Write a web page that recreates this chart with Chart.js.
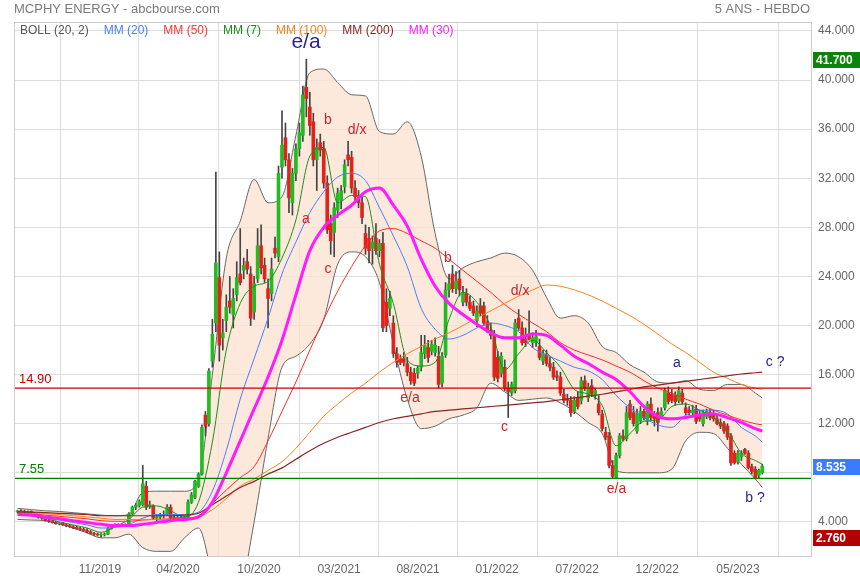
<!DOCTYPE html>
<html>
<head>
<meta charset="utf-8">
<script src="https://cdn.jsdelivr.net/npm/chart.js@4.4.0/dist/chart.umd.min.js"></script>
<style>
  html, body { margin: 0; padding: 0; background: #fff; }
  #wrap { width: 860px; height: 580px; }
</style>
</head>
<body>
<div id="wrap"><canvas id="myChart" width="860" height="580"></canvas></div>
<script>
// weekly candles, week 0 = first bar on the left
const opens = [
  4.85, 4.90, 4.85, 4.80, 4.85, 4.70, 4.50, 4.35, 4.30, 4.10,
  4.05, 3.95, 3.85, 3.90, 3.75, 3.70, 3.60, 3.55, 3.45, 3.40,
  3.30, 3.20, 3.05, 3.00, 2.95, 2.98, 3.00, 3.45, 3.70, 3.75,
  3.70, 3.75, 3.80, 4.65, 5.20, 5.35, 5.40, 6.90, 5.30, 5.30,
  4.30, 4.40, 4.50, 4.60, 5.20, 4.35, 4.30, 4.35, 4.30, 4.40,
  5.60, 6.00, 6.90, 7.90, 12.70, 12.00, 17.10, 20.20, 23.90, 19.00,
  20.40, 22.00, 20.90, 22.50, 24.20, 24.50, 25.20, 24.20, 21.10, 23.80,
  26.50, 24.90, 23.00, 22.60, 26.30, 25.60, 32.90, 35.30, 33.50, 30.00,
  32.40, 34.40, 35.50, 39.40, 37.80, 36.60, 33.50, 34.90, 34.40, 31.60,
  28.30, 27.60, 29.40, 30.20, 31.30, 33.90, 33.70, 31.20, 30.50, 30.00,
  27.50, 27.10, 26.30, 27.10, 26.10, 26.70, 21.90, 21.40, 20.20, 17.70,
  17.30, 17.30, 16.90, 16.20, 16.10, 16.10, 16.60, 17.70, 18.20, 17.90,
  17.80, 17.50, 15.30, 17.60, 22.90, 24.20, 23.00, 23.80, 21.90, 22.60,
  21.90, 21.60, 20.40, 21.60, 21.60, 20.30, 19.60, 19.20, 17.40, 16.10,
  16.60, 14.90, 14.50, 14.70, 20.60, 19.80, 18.90, 19.30, 18.60, 18.60,
  18.30, 17.10, 17.60, 16.90, 16.60, 15.90, 15.80, 14.40, 14.00, 13.90,
  13.00, 14.10, 13.90, 15.50, 14.10, 15.10, 14.30, 13.60, 12.80, 11.30,
  11.00, 8.60, 7.60, 9.40, 11.00, 10.80, 13.60, 12.90, 11.40, 12.20,
  13.00, 12.20, 13.60, 12.70, 12.90, 12.60, 13.30, 14.50, 14.40, 14.30,
  13.90, 14.50, 13.30, 13.10, 12.90, 13.20, 12.60, 12.00, 12.60, 12.90,
  12.80, 12.40, 12.10, 12.00, 11.80, 11.00, 9.60, 8.90, 9.30, 9.90,
  9.60, 8.50, 8.30, 7.80, 8.00
];
const highs = [
  4.95, 5.00, 4.95, 4.90, 4.90, 4.75, 4.60, 4.45, 4.35, 4.20,
  4.15, 4.05, 3.95, 3.95, 3.85, 3.80, 3.70, 3.65, 3.55, 3.50,
  3.45, 3.30, 3.15, 3.10, 3.05, 3.10, 3.55, 3.80, 3.85, 3.85,
  3.85, 3.85, 4.75, 5.30, 5.50, 5.80, 8.60, 7.30, 5.70, 5.40,
  4.60, 4.70, 4.90, 5.40, 5.40, 4.60, 4.50, 4.55, 4.50, 5.80,
  6.40, 7.40, 8.00, 11.90, 13.00, 16.50, 20.50, 32.50, 26.00, 20.50,
  22.50, 24.00, 23.00, 25.20, 27.90, 25.50, 26.20, 24.80, 24.00, 27.90,
  28.20, 25.50, 23.80, 25.50, 27.20, 33.00, 37.50, 36.50, 34.00, 32.80,
  34.80, 36.50, 39.50, 41.70, 39.00, 37.30, 35.20, 35.60, 35.00, 32.20,
  29.00, 30.00, 31.20, 31.40, 33.50, 35.00, 34.20, 31.80, 31.00, 30.50,
  28.20, 28.00, 27.30, 28.30, 27.00, 27.60, 23.00, 22.80, 20.80, 18.20,
  17.60, 17.80, 17.40, 16.60, 16.50, 16.70, 19.20, 19.20, 18.80, 18.80,
  19.00, 18.30, 17.80, 23.50, 24.20, 24.90, 24.40, 24.50, 23.20, 23.00,
  22.40, 22.00, 21.60, 22.20, 21.90, 20.80, 20.20, 19.60, 17.90, 17.80,
  17.20, 15.40, 15.40, 20.50, 21.30, 20.30, 19.80, 21.20, 19.40, 19.60,
  18.90, 18.00, 18.00, 17.40, 17.00, 16.30, 16.20, 14.80, 14.40, 14.20,
  14.20, 14.60, 15.80, 15.90, 15.30, 15.60, 14.90, 14.30, 13.10, 11.70,
  11.30, 9.00, 9.60, 11.20, 11.50, 13.40, 13.90, 13.40, 13.20, 13.40,
  13.20, 13.80, 14.10, 13.00, 13.30, 13.30, 14.90, 15.00, 14.80, 14.60,
  15.00, 14.80, 13.70, 13.40, 13.50, 13.50, 13.10, 13.10, 13.20, 13.20,
  13.10, 12.70, 12.40, 12.20, 12.00, 11.20, 9.80, 9.80, 9.80, 10.00,
  9.80, 8.70, 8.50, 8.30, 8.70
];
const lows = [
  4.75, 4.80, 4.75, 4.70, 4.65, 4.45, 4.30, 4.20, 4.05, 3.95,
  3.90, 3.80, 3.75, 3.70, 3.60, 3.55, 3.45, 3.40, 3.30, 3.25,
  3.10, 3.00, 2.90, 2.85, 2.76, 2.85, 2.95, 3.40, 3.60, 3.60,
  3.60, 3.65, 3.75, 4.60, 5.00, 5.20, 5.30, 5.00, 5.10, 4.20,
  4.00, 4.20, 4.30, 4.50, 4.20, 4.20, 4.15, 4.20, 4.20, 4.35,
  5.50, 5.90, 6.80, 7.80, 11.00, 11.80, 16.60, 19.50, 17.10, 18.00,
  19.50, 21.00, 19.80, 22.00, 23.30, 23.80, 24.20, 20.00, 20.50, 23.50,
  24.20, 23.50, 19.80, 22.00, 25.50, 25.20, 32.00, 33.00, 29.20, 29.00,
  31.80, 33.80, 35.00, 37.00, 35.50, 33.00, 31.00, 33.80, 31.20, 27.50,
  25.80, 25.60, 28.80, 29.50, 30.80, 33.00, 30.80, 30.20, 29.60, 28.30,
  25.80, 25.10, 25.00, 25.80, 25.60, 19.50, 19.50, 20.80, 17.40, 16.60,
  16.80, 16.70, 15.90, 15.20, 15.10, 15.70, 16.30, 17.30, 17.00, 17.60,
  17.50, 14.90, 15.00, 17.40, 22.30, 22.70, 22.60, 22.40, 21.60, 21.60,
  21.20, 20.80, 19.90, 20.80, 20.00, 19.40, 18.90, 15.50, 15.40, 15.80,
  14.70, 12.50, 14.30, 14.50, 19.60, 18.40, 18.30, 18.80, 18.20, 18.30,
  17.20, 16.80, 16.70, 16.30, 15.60, 15.50, 14.30, 13.70, 13.50, 12.60,
  12.80, 13.20, 13.60, 14.70, 13.80, 14.20, 14.00, 12.70, 11.40, 10.70,
  8.40, 7.55, 7.60, 9.20, 10.60, 10.60, 12.30, 11.80, 11.20, 12.00,
  12.30, 11.90, 12.30, 11.80, 11.40, 12.40, 13.10, 13.60, 13.70, 13.50,
  13.70, 13.60, 12.70, 12.70, 12.70, 12.00, 12.20, 11.80, 12.40, 12.30,
  12.20, 11.90, 11.60, 11.20, 10.70, 8.60, 8.70, 8.70, 9.00, 9.50,
  8.30, 7.90, 7.50, 7.60, 7.90
];
const closes = [
  4.90, 4.85, 4.80, 4.85, 4.70, 4.50, 4.35, 4.30, 4.10, 4.05,
  3.95, 3.85, 3.90, 3.75, 3.70, 3.60, 3.55, 3.45, 3.40, 3.30,
  3.20, 3.05, 3.00, 2.95, 2.98, 3.00, 3.45, 3.70, 3.75, 3.70,
  3.75, 3.80, 4.65, 5.20, 5.35, 5.65, 7.10, 5.20, 5.40, 4.30,
  4.40, 4.50, 4.60, 5.20, 4.35, 4.30, 4.35, 4.30, 4.40, 5.60,
  6.20, 7.30, 7.90, 11.70, 11.80, 16.30, 19.30, 25.10, 18.40, 19.40,
  21.50, 21.50, 22.20, 23.90, 23.50, 24.90, 24.60, 20.60, 23.40, 26.50,
  24.70, 23.80, 22.20, 24.60, 25.90, 32.40, 34.70, 33.50, 30.40, 32.40,
  34.40, 35.70, 38.80, 38.50, 36.30, 33.50, 34.50, 34.30, 31.60, 27.80,
  26.90, 29.60, 30.80, 31.00, 33.10, 33.50, 31.20, 30.50, 30.00, 28.80,
  26.30, 26.10, 26.80, 26.10, 26.70, 19.80, 20.00, 22.20, 17.70, 17.00,
  17.00, 17.00, 16.20, 15.50, 15.30, 16.50, 17.80, 18.40, 17.40, 18.50,
  18.40, 15.20, 17.50, 22.90, 23.40, 23.00, 23.60, 22.90, 22.70, 21.90,
  21.40, 21.00, 21.20, 21.00, 20.20, 19.60, 19.20, 15.80, 15.70, 17.50,
  14.90, 14.60, 15.20, 20.20, 19.80, 18.60, 18.60, 18.90, 19.00, 19.10,
  17.40, 17.70, 16.90, 16.60, 15.80, 15.80, 14.50, 13.90, 13.90, 12.90,
  13.90, 13.40, 15.50, 14.90, 15.00, 14.40, 14.70, 12.90, 11.60, 10.90,
  8.60, 7.70, 9.40, 11.00, 10.80, 12.90, 12.50, 12.00, 12.80, 13.00,
  12.50, 13.60, 12.50, 12.40, 12.10, 13.00, 14.70, 13.80, 13.90, 13.80,
  14.70, 13.80, 12.90, 12.90, 13.10, 12.20, 12.40, 12.90, 13.00, 12.50,
  12.40, 12.00, 11.80, 11.40, 10.90, 8.80, 8.80, 9.60, 9.60, 9.60,
  8.40, 8.10, 7.60, 8.20, 8.535
];

// indicator lines, read every 4 weeks
const maWeeks = [
  0, 4, 8, 12, 16, 20, 24, 28, 32, 36, 40, 44, 48, 52, 56, 60, 64, 68, 72, 76,
  80, 84, 88, 92, 96, 100, 104, 108, 112, 116, 120, 124, 128, 132, 136, 140,
  144, 148, 152, 156, 160, 164, 168, 172, 176, 180, 184, 188, 192, 196, 200,
  204, 208, 212, 214
];
const mm7 = [
  4.85, 4.8, 4.3, 4.0, 3.75, 3.5, 3.15, 3.6, 4.2, 5.2, 5.3, 4.9, 4.4, 5.6, 10.5,
  18.0, 21.8, 23.2, 23.6, 25.5, 28.6, 33.8, 34.5, 30.0, 30.6, 30.5, 25.0, 21.8,
  17.2, 16.7, 17.0, 20.5, 22.7, 21.9, 19.9, 16.4, 17.7, 18.8, 17.8, 16.6, 14.8,
  14.4, 13.5, 10.2, 11.2, 12.2, 12.3, 13.4, 13.6, 13.1, 12.5, 11.4, 9.6, 9.0, 8.7
];
const mm20 = [
  4.7, 4.55, 4.3, 4.15, 3.95, 3.75, 3.5, 3.55, 3.8, 4.3, 4.6, 4.6, 4.6, 4.8, 6.5,
  9.8, 14.0, 17.3, 20.6, 24.2, 26.8, 29.2, 30.9, 32.1, 32.4, 31.8, 29.6, 27.3,
  24.8, 21.4, 19.7, 18.9, 19.2, 19.8, 20.2, 20.0, 19.5, 18.2, 17.6, 17.1, 16.6,
  16.3, 15.6, 14.3, 13.3, 12.5, 11.9, 11.7, 12.7, 13.1, 13.1, 12.8, 11.7, 11.0, 10.5
];
const mm30 = [
  4.6, 4.55, 4.4, 4.25, 4.1, 3.95, 3.8, 3.7, 3.7, 3.8, 3.95, 4.1, 4.2, 4.4, 5.6,
  8.0, 10.6, 13.2, 15.8, 18.8, 22.5, 26.1, 28.0, 29.0, 29.8, 30.9, 31.2, 29.8,
  28.1, 25.4, 23.2, 21.8, 20.9, 20.1, 19.4, 19.0, 19.0, 19.3, 19.2, 18.4, 17.5,
  16.9, 16.2, 15.6, 14.6, 13.4, 12.6, 12.4, 12.5, 12.7, 12.8, 12.5, 12.1, 11.6, 11.4
];
const mm50 = [
  4.7, 4.65, 4.55, 4.45, 4.35, 4.25, 4.1, 4.05, 4.05, 4.15, 4.2, 4.25, 4.3, 4.5,
  5.5, 6.6, 7.6, 8.5, 10.6, 13.0, 15.4, 18.0, 20.5, 22.8, 24.8, 26.5, 27.7, 27.9,
  27.5, 26.9, 26.3, 25.4, 24.5, 23.6, 22.7, 21.7, 20.9, 20.2, 19.5, 18.6, 18.0,
  17.6, 17.2, 16.7, 16.2, 15.5, 14.9, 14.5, 14.0, 13.6, 13.1, 12.7, 12.3, 12.0, 11.9
];
const mm100 = [
  4.7, 4.7, 4.65, 4.6, 4.5, 4.4, 4.3, 4.2, 4.2, 4.2, 4.2, 4.2, 4.25, 4.4, 5.0,
  5.9, 6.9, 7.5, 8.2, 8.9, 10.0, 11.3, 12.6, 13.6, 14.5, 15.3, 16.2, 17.0, 17.7,
  18.3, 18.9, 19.4, 20.0, 20.6, 21.2, 21.8, 22.4, 22.9, 23.3, 23.2, 22.9, 22.5,
  22.0, 21.4, 20.8, 20.1, 19.3, 18.5, 17.8, 17.0, 16.2, 15.7, 15.2, 14.9, 14.8
];
const mm200 = [
  4.8, 4.8, 4.75, 4.7, 4.65, 4.6, 4.5, 4.5, 4.5, 4.5, 4.5, 4.5, 4.55, 4.7, 5.4,
  6.1, 6.8, 7.3, 7.9, 8.4, 9.1, 9.8, 10.4, 10.9, 11.3, 11.7, 12.1, 12.4, 12.6,
  12.8, 13.0, 13.1, 13.2, 13.3, 13.4, 13.5, 13.6, 13.7, 13.8, 13.95, 14.1, 14.25,
  14.4, 14.6, 14.8, 15.0, 15.15, 15.3, 15.45, 15.6, 15.75, 15.9, 16.05, 16.15, 16.2
];
const bollUp = [
  5.1, 5.0, 4.9, 4.85, 4.75, 4.65, 4.55, 4.5, 4.6, 6.4, 6.5, 6.5, 6.5, 7.4, 16.0,
  25.5, 28.5, 31.9, 30.0, 30.5, 35.5, 40.6, 40.9, 39.8, 38.8, 38.7, 35.8, 35.6,
  36.6, 33.8, 27.5, 23.8, 24.7, 25.2, 25.5, 25.9, 25.6, 24.5, 22.3, 20.6, 20.8,
  20.2, 18.3, 17.8, 16.8, 16.2, 15.4, 15.3, 15.5, 14.8, 14.7, 15.2, 15.2, 14.5, 14.1
];
const bollLow = [
  4.2, 4.15, 4.1, 3.85, 3.5, 3.1, 2.7, 2.7, 3.0, 1.9, 1.6, 1.6, 2.7, 3.5, -0.5,
  -5.0, -2.0, 4.0, 10.8, 16.6, 17.5, 18.5, 20.5, 25.0, 26.0, 25.6, 23.5, 18.5,
  14.0, 11.6, 11.8, 12.4, 12.7, 13.3, 15.3, 14.6, 13.9, 14.0, 14.1, 13.7, 13.0,
  12.1, 11.2, 8.2, 8.0, 8.0, 8.0, 8.3, 10.6, 11.3, 11.2, 10.0, 8.7, 7.5, 6.8
];

// horizontal levels and axis ticks
const levels = [14.90, 7.55];
const yTicks = [4, 8, 12, 16, 20, 24, 28, 32, 36, 40, 44];
const xTickPos = [23.7, 46.1, 69.4, 92.4, 115.1, 137.8, 160.8, 183.8, 207.0];
const xTickLabels = ['11/2019', '04/2020', '10/2020', '03/2021', '08/2021', '01/2022', '07/2022', '12/2022', '05/2023'];

// wave counts written on the chart
const waveTexts = ['e/a', 'b', 'd/x', 'a', 'c', 'b', 'd/x', 'e/a', 'c', 'e/a', 'a', 'c ?', 'b ?'];
const waveWeeks = [82.9, 89.2, 97.6, 82.9, 89.2, 123.7, 144.4, 112.8, 139.9, 172.1, 189.5, 217.7, 211.9];
const waveValues = [43.1, 36.7, 35.9, 28.7, 24.6, 25.5, 22.8, 14.1, 11.7, 6.7, 16.9, 17.0, 5.9];

; ((D) => {
  const FONT = "'Liberation Sans', Arial, Helvetica, sans-serif";
  const GREEN = '#22bb22', RED = '#e0241c';

  let wicks = highs.map((h, i) => ({ x: i, y: [lows[i], h] }));
  let bodies = opens.map((o, i) => ({ x: i, y: [o, closes[i]] }));
  let bodyColors = opens.map((o, i) => closes[i] >= o ? GREEN : RED);

  // price boxes on the right axis: top, last, bottom
  let boxVals = [Math.max(...highs), closes[closes.length - 1], Math.min(...lows)];
  let boxColors = ['#0c840c', '#3b7bff', '#b30000'];

  let line = (label, vals, color, width, order) => ({
    type: 'line',
    label: label,
    data: maWeeks.map((w, k) => ({ x: w, y: vals[k] })),
    borderColor: color,
    borderWidth: width,
    pointRadius: 0,
    fill: false,
    cubicInterpolationMode: 'monotone',
    order: order,
  });

  let up = line('BOLL up', bollUp, '#666666', 1, 20);
  let low = line('BOLL low', bollLow, '#666666', 1, 20);
  low.fill = '-1';
  low.backgroundColor = 'rgba(252, 226, 208, 0.75)';

  let levelColors = ['#cc0000', '#008000'];
  let levelSets = levels.map((v, k) => ({
    type: 'line',
    label: 'level ' + v,
    data: [{ x: -1, y: v }, { x: 228, y: v }],
    borderColor: levelColors[k],
    borderWidth: 1.3,
    pointRadius: 0,
    fill: false,
    order: 2,
  }));

  let datasets = [
    up, low,
    { type: 'bar', label: 'wick', data: wicks, backgroundColor: '#444444', barThickness: 1, grouped: false, order: 10 },
    { type: 'bar', label: 'body', data: bodies, backgroundColor: bodyColors, barThickness: 3, grouped: false, order: 9 },
    line('MM (200)', mm200, '#8b2525', 1.2, 4),
    line('MM (100)', mm100, '#ff7f1a', 1, 4),
    line('MM (50)', mm50, '#ff2a2a', 1, 4),
    line('MM (20)', mm20, '#4a7dff', 1, 4),
    line('MM (7)', mm7, '#1e8c1e', 1, 4),
    line('MM (30)', mm30, '#ff1aff', 3, 3),
  ].concat(levelSets);

  const legendItems = [
    ['BOLL (20, 2)', '#555555'], ['MM (20)', '#4a7dff'], ['MM (50)', '#ff3333'],
    ['MM (7)', '#1e8c1e'], ['MM (100)', '#ff7f1a'], ['MM (200)', '#8b2525'], ['MM (30)', '#ff1aff'],
  ];
  const navy = '#262690', waveRed = '#c8262a';

  const decor = {
    id: 'decor',
    afterDraw(chart) {
      const { ctx, chartArea: a, scales: { x, y } } = chart;
      ctx.save();
      ctx.strokeStyle = '#cccccc';
      ctx.lineWidth = 1;
      ctx.strokeRect(a.left + 0.5, a.top + 0.5, a.right - a.left, a.bottom - a.top);

      // title
      ctx.font = '13px ' + FONT;
      ctx.fillStyle = '#7a7a7a';
      ctx.textBaseline = 'middle';
      ctx.textAlign = 'left';
      ctx.fillText('MCPHY ENERGY - abcbourse.com', 14, 9);
      ctx.textAlign = 'right';
      ctx.fillText('5 ANS - HEBDO', 810, 9);

      // legend row
      ctx.textAlign = 'left';
      ctx.font = '12px ' + FONT;
      let lx = 20;
      for (const [t, c] of legendItems) {
        ctx.fillStyle = c;
        ctx.fillText(t, lx, 31);
        lx += ctx.measureText(t).width + 15;
      }

      // level labels
      ctx.font = '13px ' + FONT;
      ctx.textBaseline = 'bottom';
      levels.forEach((v, k) => {
        ctx.fillStyle = levelColors[k];
        ctx.fillText(v.toFixed(2), 19, y.getPixelForValue(v) - 2);
      });

      // wave labels
      ctx.textAlign = 'center';
      ctx.textBaseline = 'middle';
      waveTexts.forEach((t, k) => {
        let big = k === 0;
        let isNavy = k === 0 || k >= 10;
        ctx.font = (big ? '21px ' : '14px ') + FONT;
        ctx.fillStyle = isNavy ? navy : waveRed;
        ctx.fillText(t, x.getPixelForValue(waveWeeks[k]), y.getPixelForValue(waveValues[k]));
      });

      // value boxes on the price axis
      ctx.font = 'bold 12px ' + FONT;
      ctx.textAlign = 'left';
      boxVals.forEach((v, k) => {
        let py = Math.round(y.getPixelForValue(v)) + 1;
        ctx.fillStyle = boxColors[k];
        ctx.fillRect(a.right + 2, py - 8, 860 - a.right - 2, 16);
        ctx.fillStyle = '#ffffff';
        ctx.fillText(v.toFixed(3), a.right + 5, py + 1);
      });
      ctx.restore();
    }
  };

  let ctx = D.querySelector('#myChart').getContext('2d');
  let chart = new Chart(ctx, {
    type: 'bar',
    data: { datasets: datasets },
    options: {
      responsive: false,
      animation: false,
      devicePixelRatio: 1,
      layout: { padding: { left: 14, top: 22, right: 0, bottom: 0 } },
      plugins: { legend: { display: false }, tooltip: { enabled: false }, title: { display: false } },
      scales: {
        x: {
          type: 'linear', min: -1, max: 228, offset: false,
          afterBuildTicks: s => { s.ticks = xTickPos.map(v => ({ value: v })); },
          afterFit: s => { s.height = 24; },
          ticks: {
            callback: (v, i) => xTickLabels[i],
            color: '#666666', font: { family: FONT, size: 12 },
            maxRotation: 0, autoSkip: false, padding: 6,
          },
          grid: { color: '#dddddd', drawTicks: false },
          border: { color: '#cccccc' },
        },
        y: {
          position: 'right', min: 1.22, max: 44.73,
          afterBuildTicks: s => { s.ticks = yTicks.map(v => ({ value: v })); },
          afterFit: s => { s.width = 49; },
          ticks: {
            // a tick label that sits under a price box is left out
            callback: v => boxVals.some(b => Math.abs(b - v) < 0.9) ? '' : v.toFixed(3),
            color: '#666666', font: { family: FONT, size: 12 }, padding: 7,
          },
          grid: { color: '#dddddd', drawTicks: false },
          border: { color: '#cccccc' },
        },
      },
    },
    plugins: [decor],
  });
})(document)
</script>
</body>
</html>
